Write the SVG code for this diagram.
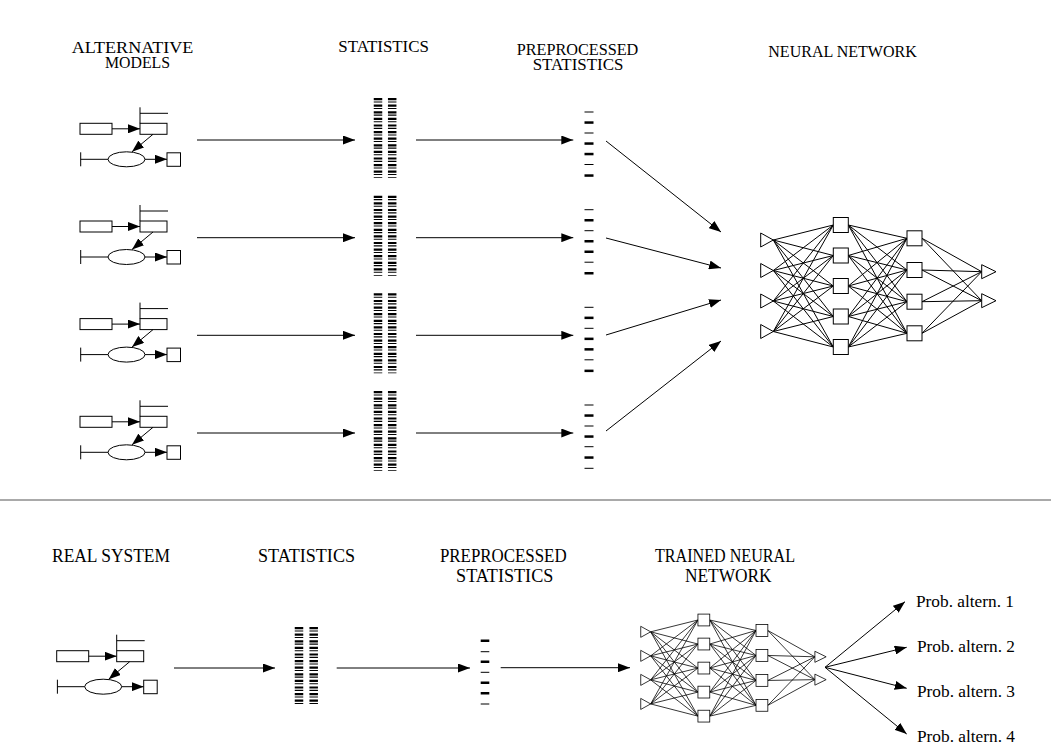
<svg xmlns="http://www.w3.org/2000/svg" xmlns:xlink="http://www.w3.org/1999/xlink" width="1051" height="746" viewBox="0 0 1051 746">
<style>
.lbl{font-family:"Liberation Serif","Times New Roman",serif;font-size:16px;fill:#000;text-anchor:middle}
.lbl2{font-family:"Liberation Serif","Times New Roman",serif;font-size:18px;fill:#000;text-anchor:middle}
.prob{font-family:"Liberation Serif","Times New Roman",serif;font-size:17.3px;fill:#000}
.ln{stroke:#000;stroke-width:1;fill:none}
.box{stroke:#000;stroke-width:1;fill:#fff}
.arr{stroke:#000;stroke-width:1;fill:none;marker-end:url(#ah)}
.bars{stroke:#000;stroke-width:8.5;fill:none;stroke-dasharray:2.2 1.2 1.1 2.1}
.tk{fill:#000}
</style>
<defs>
<marker id="ah" markerWidth="12" markerHeight="9" refX="12" refY="4.5" orient="auto" markerUnits="userSpaceOnUse">
<path d="M0,0 L12,4.5 L0,9 z" fill="#000"/>
</marker>
<g id="model">
<rect class="box" x="0" y="0" width="32" height="11"/>
<line class="arr" x1="32" y1="5.5" x2="60" y2="5.5"/>
<rect class="box" x="60" y="0" width="27" height="11"/>
<path class="ln" d="M60 -16V0M60 -10H88"/>
<line class="arr" x1="73" y1="11" x2="52" y2="28.5"/>
<ellipse class="box" cx="46.5" cy="36" rx="18.5" ry="7.5"/>
<path class="ln" d="M0.7 29V43M0.7 36H28"/>
<line class="arr" x1="65" y1="36" x2="87" y2="36"/>
<rect class="box" x="87" y="29.5" width="13.5" height="13.5"/>
</g>
<g id="nn">
<path class="ln" d="M773.3 240L833.3 225M773.3 240L833.3 255.5M773.3 240L833.3 286M773.3 240L833.3 316.5M773.3 240L833.3 347
M773.3 270.5L833.3 225M773.3 270.5L833.3 255.5M773.3 270.5L833.3 286M773.3 270.5L833.3 316.5M773.3 270.5L833.3 347
M773.3 301L833.3 225M773.3 301L833.3 255.5M773.3 301L833.3 286M773.3 301L833.3 316.5M773.3 301L833.3 347
M773.3 331.5L833.3 225M773.3 331.5L833.3 255.5M773.3 331.5L833.3 286M773.3 331.5L833.3 316.5M773.3 331.5L833.3 347
M848.3 225L907 238.3M848.3 225L907 270M848.3 225L907 301.7M848.3 225L907 333.3
M848.3 255.5L907 238.3M848.3 255.5L907 270M848.3 255.5L907 301.7M848.3 255.5L907 333.3
M848.3 286L907 238.3M848.3 286L907 270M848.3 286L907 301.7M848.3 286L907 333.3
M848.3 316.5L907 238.3M848.3 316.5L907 270M848.3 316.5L907 301.7M848.3 316.5L907 333.3
M848.3 347L907 238.3M848.3 347L907 270M848.3 347L907 301.7M848.3 347L907 333.3
M922 238.3L981.7 271.7M922 238.3L981.7 300.7M922 270L981.7 271.7M922 270L981.7 300.7
M922 301.7L981.7 271.7M922 301.7L981.7 300.7M922 333.3L981.7 271.7M922 333.3L981.7 300.7"/>
<path class="box" d="M760.7 233L773.3 240L760.7 247ZM760.7 263.5L773.3 270.5L760.7 277.5ZM760.7 294L773.3 301L760.7 308ZM760.7 324.5L773.3 331.5L760.7 338.5Z"/>
<rect class="box" x="833.3" y="217.5" width="15" height="15"/>
<rect class="box" x="833.3" y="248" width="15" height="15"/>
<rect class="box" x="833.3" y="278.5" width="15" height="15"/>
<rect class="box" x="833.3" y="309" width="15" height="15"/>
<rect class="box" x="833.3" y="339.5" width="15" height="15"/>
<rect class="box" x="907" y="230.8" width="15" height="15"/>
<rect class="box" x="907" y="262.5" width="15" height="15"/>
<rect class="box" x="907" y="294.2" width="15" height="15"/>
<rect class="box" x="907" y="325.8" width="15" height="15"/>
<path class="box" d="M981.7 264.7L996 271.7L981.7 278.7ZM981.7 293.7L996 300.7L981.7 307.7Z"/>
</g>
</defs>
<rect x="0" y="0" width="1051" height="746" fill="#fff"/>

<g id="headers-top">
<text class="lbl" x="132.5" y="53.3" textLength="121.6" lengthAdjust="spacingAndGlyphs">ALTERNATIVE</text>
<text class="lbl" x="137.5" y="68.3" textLength="65" lengthAdjust="spacingAndGlyphs">MODELS</text>
<text class="lbl" x="383.6" y="52" textLength="90.6" lengthAdjust="spacingAndGlyphs">STATISTICS</text>
<text class="lbl" x="577.5" y="54.5" textLength="121.6" lengthAdjust="spacingAndGlyphs">PREPROCESSED</text>
<text class="lbl" x="578" y="69.5" textLength="90.6" lengthAdjust="spacingAndGlyphs">STATISTICS</text>
<text class="lbl" x="842.5" y="57.3" textLength="148.4" lengthAdjust="spacingAndGlyphs">NEURAL NETWORK</text>
</g>

<g id="model-1"><use xlink:href="#model" transform="translate(80,123.3)"/></g>
<g id="model-2"><use xlink:href="#model" transform="translate(80,221)"/></g>
<g id="model-3"><use xlink:href="#model" transform="translate(80,318.6)"/></g>
<g id="model-4"><use xlink:href="#model" transform="translate(80,416.3)"/></g>

<g id="stats-1"><path class="bars" d="M378 98V178M392.2 98V178"/></g>
<g id="stats-2"><path class="bars" d="M378 195.7V275.7M392.2 195.7V275.7"/></g>
<g id="stats-3"><path class="bars" d="M378 293.3V373.3M392.2 293.3V373.3"/></g>
<g id="stats-4"><path class="bars" d="M378 391V471M392.2 391V471"/></g>

<g id="pre-1" class="tk">
<rect x="584.5" y="111.5" width="9" height="1"/><rect x="584.5" y="121.3" width="9" height="2.5"/><rect x="584.5" y="132.5" width="9" height="1"/><rect x="584.5" y="142.3" width="9" height="2.5"/><rect x="584.5" y="152.8" width="9" height="2.5"/><rect x="584.5" y="164" width="9" height="1"/><rect x="584.5" y="174.3" width="9" height="2.5"/>
</g>
<g id="pre-2" class="tk">
<rect x="584.5" y="209.2" width="9" height="1"/><rect x="584.5" y="219" width="9" height="2.5"/><rect x="584.5" y="230.2" width="9" height="1"/><rect x="584.5" y="240" width="9" height="2.5"/><rect x="584.5" y="250.5" width="9" height="2.5"/><rect x="584.5" y="261.7" width="9" height="1"/><rect x="584.5" y="272" width="9" height="2.5"/>
</g>
<g id="pre-3" class="tk">
<rect x="584.5" y="306.8" width="9" height="1"/><rect x="584.5" y="316.6" width="9" height="2.5"/><rect x="584.5" y="327.8" width="9" height="1"/><rect x="584.5" y="337.6" width="9" height="2.5"/><rect x="584.5" y="348.1" width="9" height="2.5"/><rect x="584.5" y="359.3" width="9" height="1"/><rect x="584.5" y="369.6" width="9" height="2.5"/>
</g>
<g id="pre-4" class="tk">
<rect x="584.5" y="404.5" width="9" height="1"/><rect x="584.5" y="414.3" width="9" height="2.5"/><rect x="584.5" y="425.5" width="9" height="1"/><rect x="584.5" y="435.3" width="9" height="2.5"/><rect x="584.5" y="446.2" width="9" height="1"/><rect x="584.5" y="456.3" width="9" height="2.5"/><rect x="584.5" y="467.8" width="9" height="1"/>
</g>

<g id="nn-top"><use xlink:href="#nn"/></g>

<g id="divider"><line x1="0" y1="500" x2="1051" y2="500" stroke="#555" stroke-width="1"/></g>

<g id="headers-bottom">
<text class="lbl2" x="111" y="562" textLength="118" lengthAdjust="spacingAndGlyphs">REAL SYSTEM</text>
<text class="lbl2" x="306.5" y="562" textLength="97" lengthAdjust="spacingAndGlyphs">STATISTICS</text>
<text class="lbl2" x="503.3" y="562" textLength="126.7" lengthAdjust="spacingAndGlyphs">PREPROCESSED</text>
<text class="lbl2" x="504.7" y="581.7" textLength="97.3" lengthAdjust="spacingAndGlyphs">STATISTICS</text>
<text class="lbl2" x="725" y="562" textLength="140" lengthAdjust="spacingAndGlyphs">TRAINED NEURAL</text>
<text class="lbl2" x="728.3" y="581.7" textLength="86.7" lengthAdjust="spacingAndGlyphs">NETWORK</text>
</g>

<g id="real-system"><use xlink:href="#model" transform="translate(56.7,650.7)"/></g>
<g id="stats-real"><path class="bars" d="M299 627V706M313.7 627V706"/></g>
<g id="pre-real" class="tk">
<rect x="480.7" y="639.5" width="8.6" height="2.5"/><rect x="480.7" y="651.2" width="8.6" height="1"/><rect x="480.7" y="660.5" width="8.6" height="2.5"/><rect x="480.7" y="671.8" width="8.6" height="1"/><rect x="480.7" y="681.5" width="8.6" height="2.5"/><rect x="480.7" y="692" width="8.6" height="2.5"/><rect x="480.7" y="703.5" width="8.6" height="1"/>
</g>
<g id="nn-trained"><use xlink:href="#nn" transform="translate(41.3,442.7) scale(0.788)"/></g>

<g id="outputs">
<text class="prob" x="916" y="606.7">Prob. altern. 1</text>
<text class="prob" x="917" y="651.7">Prob. altern. 2</text>
<text class="prob" x="917" y="696.7">Prob. altern. 3</text>
<text class="prob" x="917" y="741.7">Prob. altern. 4</text>
</g>

<g id="connectors">
<line class="arr" x1="197" y1="140" x2="355" y2="140"/>
<line class="arr" x1="197" y1="237.7" x2="355" y2="237.7"/>
<line class="arr" x1="197" y1="335.3" x2="355" y2="335.3"/>
<line class="arr" x1="197" y1="433" x2="355" y2="433"/>
<line class="arr" x1="416" y1="140" x2="573.3" y2="140"/>
<line class="arr" x1="416" y1="237.7" x2="573.3" y2="237.7"/>
<line class="arr" x1="416" y1="335.3" x2="573.3" y2="335.3"/>
<line class="arr" x1="416" y1="433" x2="573.3" y2="433"/>
<line class="arr" x1="606" y1="141" x2="721" y2="232"/>
<line class="arr" x1="606" y1="238" x2="721" y2="268"/>
<line class="arr" x1="606" y1="335" x2="721" y2="300"/>
<line class="arr" x1="606" y1="431" x2="721" y2="341"/>
<line class="arr" x1="174" y1="668" x2="275" y2="668"/>
<line class="arr" x1="336.7" y1="668" x2="470" y2="668"/>
<line class="arr" x1="500.7" y1="667.7" x2="630" y2="667.7"/>
<line class="arr" x1="825" y1="667.3" x2="905" y2="601.7"/>
<line class="arr" x1="825" y1="667.3" x2="906.7" y2="647.3"/>
<line class="arr" x1="825" y1="667.3" x2="906.7" y2="688.3"/>
<line class="arr" x1="825" y1="667.3" x2="906.7" y2="734"/>
</g>
</svg>
